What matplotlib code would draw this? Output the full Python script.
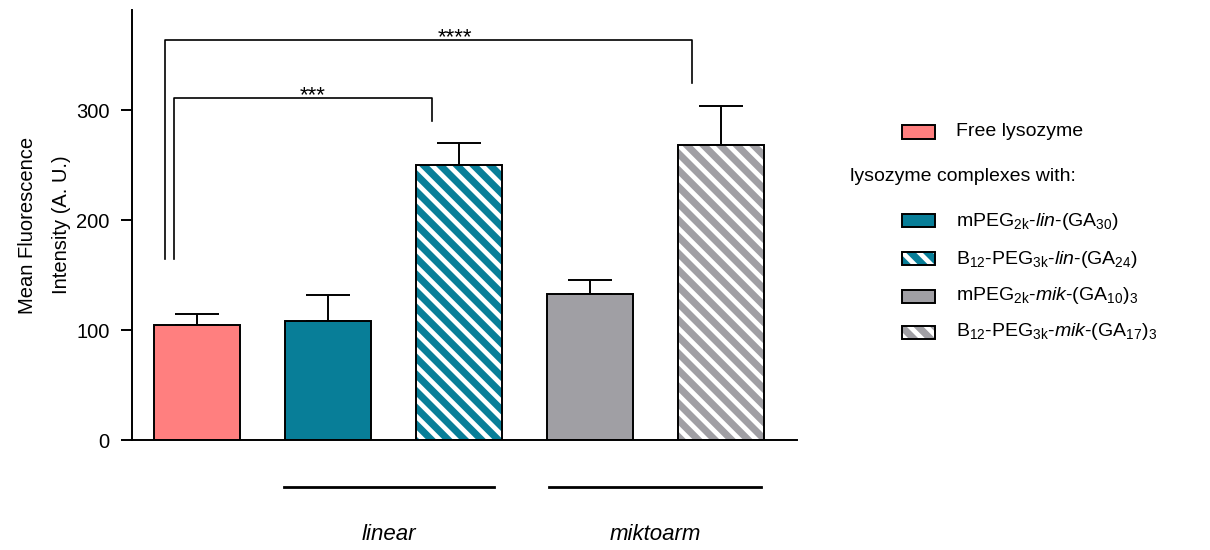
import matplotlib
matplotlib.use("Agg")
import matplotlib.pyplot as plt
from matplotlib.patches import Rectangle

plt.rcParams['font.family'] = ['Liberation Sans', 'DejaVu Sans']
plt.rcParams['mathtext.fontset'] = 'custom'
plt.rcParams['mathtext.rm'] = 'Liberation Sans'
plt.rcParams['mathtext.it'] = 'Liberation Sans:italic'
plt.rcParams['hatch.linewidth'] = 3.4

# Mean fluorescence intensity per sample (A. U.) with SD (upper only)
samples = ["Free lysozyme", "mPEG2k-lin-(GA30)", "B12-PEG3k-lin-(GA24)",
           "mPEG2k-mik-(GA10)3", "B12-PEG3k-mik-(GA17)3"]
means = [105, 108, 250, 133, 268]
errors = [9.5, 24, 20, 12.5, 36]
colors = ['#FF7F7F', '#087E98', '#087E98', '#A09FA4', '#A09FA4']
hatched = [False, False, True, False, True]

legend_labels = [
    "Free lysozyme",
    r"mPEG$_{\mathrm{2k}}$-$\mathit{lin}$-(GA$_{\mathrm{30}}$)",
    r"B$_{\mathrm{12}}$-PEG$_{\mathrm{3k}}$-$\mathit{lin}$-(GA$_{\mathrm{24}}$)",
    r"mPEG$_{\mathrm{2k}}$-$\mathit{mik}$-(GA$_{\mathrm{10}}$)$_{\mathrm{3}}$",
    r"B$_{\mathrm{12}}$-PEG$_{\mathrm{3k}}$-$\mathit{mik}$-(GA$_{\mathrm{17}}$)$_{\mathrm{3}}$",
]

# significance brackets: (left x, right x, top y, left foot, right foot, label, label x)
brackets = [
    (-0.176, 1.794, 311, 165, 290, "***", 0.88),
    (-0.244, 3.779, 364, 165, 325, "****", 1.97),
]

# group underlines below the axis
groups = [("linear", 0.664, 2.267), ("miktoarm", 2.687, 4.305)]

fig = plt.figure(figsize=(12.1, 5.5), dpi=100)
ax = fig.add_axes([132 / 1210, 110 / 550, 665 / 1210, 430 / 550])

x = list(range(len(means)))
width = 0.66
ax.errorbar(x, means, yerr=[[0] * len(errors), errors], fmt='none',
            ecolor='black', elinewidth=1.4, capsize=15.5, capthick=1.4, zorder=1)
for xi, m, c, h in zip(x, means, colors, hatched):
    if h:
        ax.bar(xi, m, width=width, color=c, edgecolor='white', hatch='\\\\',
               linewidth=0, zorder=2)
        ax.bar(xi, m, width=width, fill=False, edgecolor='black',
               linewidth=1.4, zorder=3)
    else:
        ax.bar(xi, m, width=width, color=c, edgecolor='black',
               linewidth=1.4, zorder=2)

ax.set_xlim(-0.496, 4.58)
ax.set_ylim(0, 391)
ax.set_yticks([0, 100, 200, 300])
ax.set_xticks([])
for s in ['top', 'right']:
    ax.spines[s].set_visible(False)
for s in ['left', 'bottom']:
    ax.spines[s].set_linewidth(1.4)
ax.tick_params(axis='y', length=8, width=1.4, labelsize=14.5, pad=8)
ax.set_ylabel("Mean Fluorescence\nIntensity (A. U.)", fontsize=14.5,
              labelpad=4, linespacing=1.95)

for xl, xr, yt, yfl, yfr, lab, lx in brackets:
    ax.plot([xl, xl, xr, xr], [yfl, yt, yt, yfr], color='black',
            linewidth=1.2, clip_on=False)
    ax.text(lx, yt - 3, lab, ha='center', va='baseline', fontsize=16)

for name, x0, x1 in groups:
    ax.plot([x0, x1], [-42.7, -42.7], color='black', linewidth=2,
            clip_on=False)
    ax.text((x0 + x1) / 2, -86, name, ha='center', va='center',
            fontsize=16, style='italic')

# legend drawn in figure pixel space
def fig_xy(px, py):
    return px / 1210, 1 - py / 550

rows = [132, 221, 259, 296, 332]
for i, row in enumerate(rows):
    px, py = fig_xy(902, row + 6.5)
    w, hgt = 33 / 1210, 13 / 550
    if hatched[i]:
        fig.patches.append(Rectangle((px, py), w, hgt, transform=fig.transFigure,
                                     facecolor=colors[i], edgecolor='white',
                                     hatch='\\\\', linewidth=0))
        fig.patches.append(Rectangle((px, py), w, hgt, transform=fig.transFigure,
                                     fill=False, edgecolor='black', linewidth=1.4))
    else:
        fig.patches.append(Rectangle((px, py), w, hgt, transform=fig.transFigure,
                                     facecolor=colors[i], edgecolor='black',
                                     linewidth=1.4))
    tx, ty = fig_xy(956, row)
    fig.text(tx, ty, legend_labels[i], ha='left', va='center', fontsize=14)

hx, hy = fig_xy(850, 176)
fig.text(hx, hy, "lysozyme complexes with:", ha='left', va='center', fontsize=14)

fig.savefig("out.png", dpi=100)
